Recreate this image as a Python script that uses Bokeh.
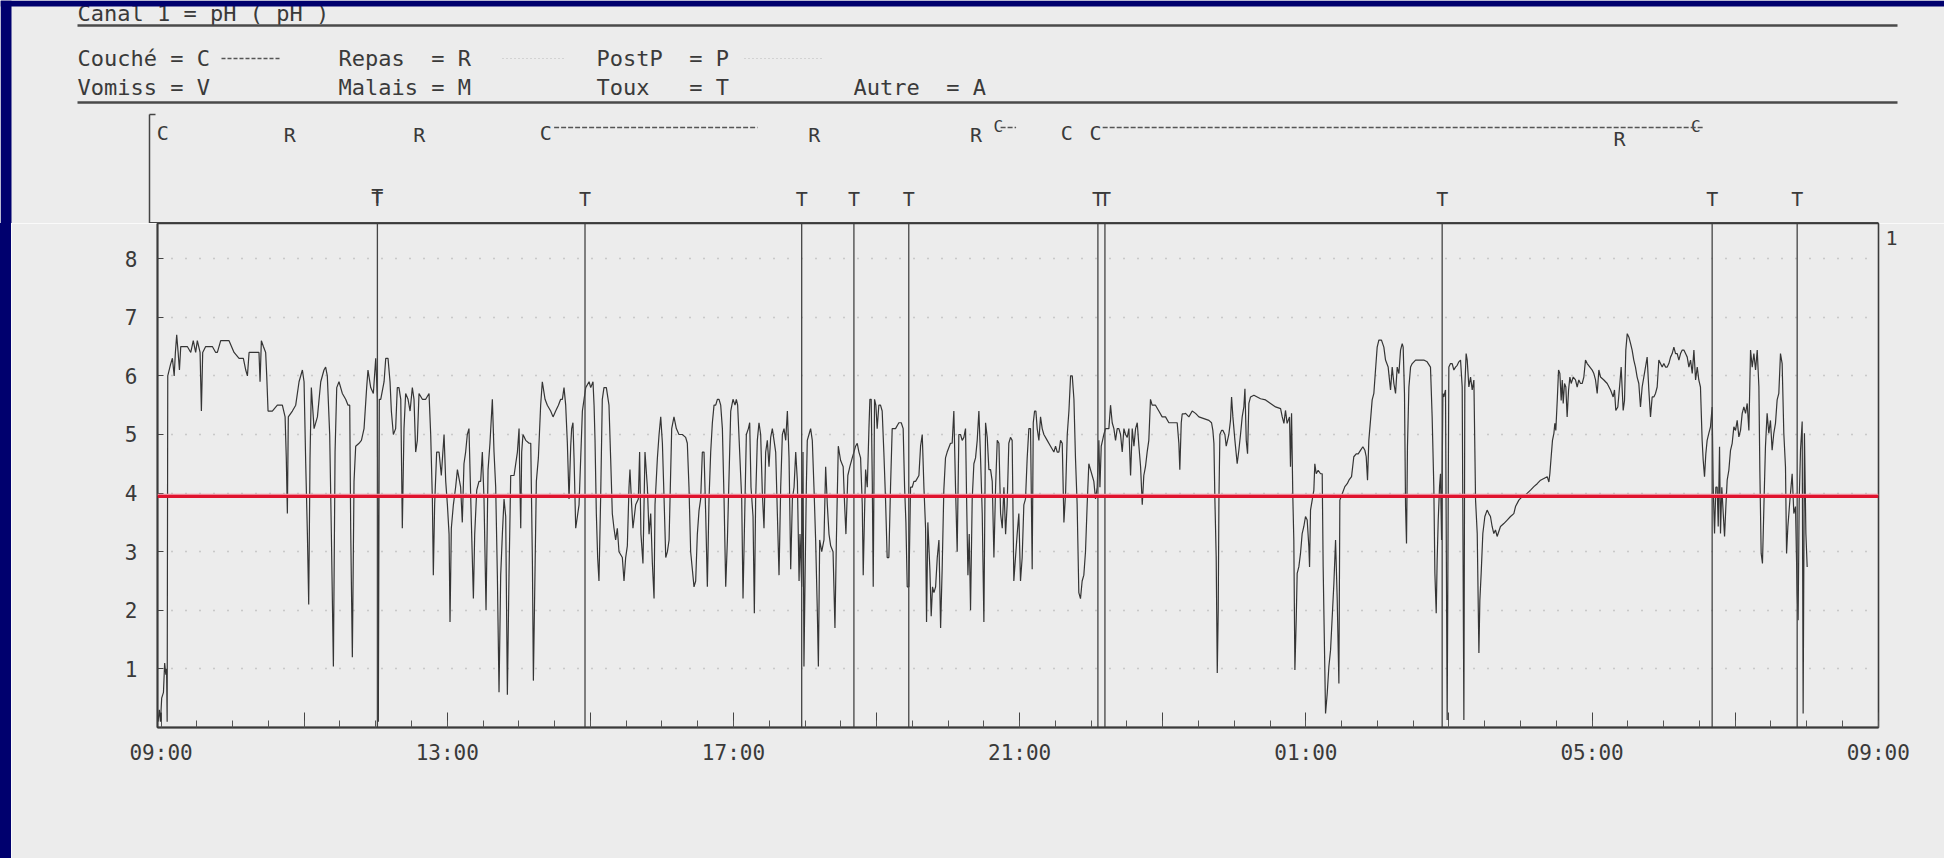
from bokeh.plotting import figure
from bokeh.models import Range1d, FixedTicker, Span, LinearAxis, Div
from bokeh.layouts import column, row
from bokeh.embed import file_html
from bokeh.resources import INLINE
from bokeh.core.properties import value

# ------------------------------------------------------------------
# DATA  (time = minutes after 09:00, value = pH)
# ------------------------------------------------------------------
trace_0900_1340 = [
    (-2.5, 0.1), (-1.5, 0.3), (-0.5, 0.1), (0.5, 0.5), (2, 0.6), (3, 1.1), (4, 0.9), (4.6, 1.0), (5.1, 0.1),
    (5.6, 6.0), (8, 6.2), (9.5, 6.3), (11, 6.0), (12, 6.4), (13.1, 6.7), (14.3, 6.4), (15.4, 6.1), (16.5, 6.5),
    (19.3, 6.5), (22, 6.5), (24.9, 6.4), (27, 6.6), (29, 6.4), (30.4, 6.6), (32.7, 6.4), (33.8, 5.4), (34.9, 6.4),
    (37.4, 6.5), (40.2, 6.5), (43, 6.5), (45.8, 6.4), (47.2, 6.4), (50, 6.6), (52.8, 6.6), (57, 6.6), (61.2, 6.4),
    (65.4, 6.3), (69, 6.3), (71, 6.1), (72.4, 6.0), (73.8, 6.4), (76.5, 6.4), (79.3, 6.4), (82.1, 6.4), (83, 5.9),
    (84.1, 6.6), (85.8, 6.5), (87.7, 6.4), (88.6, 6.0), (89.7, 5.4), (93.3, 5.4), (97.5, 5.5), (101.7, 5.5),
    (104, 5.3), (105, 4.6), (105.9, 3.65), (106.7, 5.3), (110.1, 5.4), (112.9, 5.5), (115.7, 5.9), (118.5, 6.1),
    (119.9, 5.9), (121.3, 4.5), (122.7, 3.3), (123.8, 2.1), (124.9, 4.6), (126, 5.8), (128.3, 5.1), (131.1, 5.3),
    (133.9, 5.9), (136.6, 6.1), (138, 6.15), (139.4, 6.0), (141.4, 5.0), (142.8, 3.3), (144.5, 1.04), (145.9, 4.7),
    (147.3, 5.8), (149.2, 5.9), (152, 5.7), (154.8, 5.6), (156.8, 5.5), (158.2, 5.5), (159, 3.4), (160.4, 1.2),
    (161.8, 4.2), (163.2, 4.8), (166, 4.85), (168, 4.9), (170.2, 5.1), (172.4, 5.8), (173.5, 6.1), (175.8, 5.8),
    (178, 5.7), (180, 6.3), (181.4, 5.6), (182.2, 0.1), (183, 5.6), (184.2, 5.6), (187, 5.9), (188.4, 6.3),
    (190.3, 6.3), (192, 5.9), (193.1, 5.4), (194.8, 5.0), (196.7, 5.1), (198.1, 5.8), (199.5, 5.8), (201, 5.6),
    (202.3, 3.4), (203.7, 5.1), (205.1, 5.7), (207.1, 5.6), (208.8, 5.4), (210.7, 5.8), (212.1, 5.6), (213.5, 4.7),
    (214.9, 4.9), (216.3, 5.7), (219.1, 5.6), (221.9, 5.6), (224.7, 5.7), (226.1, 5.0), (227.5, 3.9), (228.3, 2.6),
    (229.4, 3.8), (231.1, 4.7), (233.1, 4.7), (235, 4.3), (237.3, 5.0), (238.7, 4.2), (240.1, 3.8), (241.5, 3.3),
    (242.3, 1.8), (243.4, 3.4), (245.1, 3.8), (247, 4.1), (248.5, 4.4), (251.2, 4.1), (252.6, 3.5), (254, 4.5),
    (255.4, 4.7), (256.8, 5.0), (258.2, 5.1), (260.2, 3.5), (261.9, 2.2), (263, 3.3), (264.7, 4.05), (266.6, 4.2),
    (268, 4.2), (269.4, 4.7), (270.8, 3.9), (272.5, 2.0), (274.2, 4.4), (275.8, 4.85), (277.8, 5.6), (279.2, 4.7),
    (280.6, 4.1),
]

trace_1340_1830 = [
    (282.0, 2.6), (283.4, 0.6), (284.8, 2.6), (286.2, 3.3), (287.6, 3.9), (289.0, 3.6), (290.4, 0.56), (291.8, 2.65),
    (293.2, 4.3), (296.0, 4.3), (298.8, 4.7), (300.2, 5.1), (300.7, 4.4), (301.6, 3.4), (302.4, 4.7), (303.5, 5.0),
    (305.8, 4.9), (308.6, 4.85), (310.0, 4.85), (311.4, 2.8), (312.2, 0.8), (313.6, 2.7), (314.7, 4.2), (316.4, 4.6),
    (318.3, 5.5), (319.7, 5.9), (322.0, 5.6), (323.9, 5.5), (326.7, 5.4), (328.7, 5.3), (330.9, 5.4), (333.2, 5.5),
    (335.1, 5.6), (336.5, 5.6), (337.9, 5.8), (339.3, 5.5), (340.7, 4.85), (342.1, 3.9), (343.5, 4.8), (344.3, 5.1),
    (345.4, 5.2), (346.3, 4.6), (347.7, 3.4), (349.1, 3.6), (350.5, 3.8), (351.9, 4.6), (353.3, 5.4), (354.7, 5.6),
    (356.1, 5.8), (358.9, 5.9), (360.3, 5.8), (362.2, 5.9), (363.1, 5.5), (363.9, 4.9), (365.0, 3.65), (366.1, 2.9),
    (367.2, 2.5), (368.6, 3.9), (370.0, 5.6), (371.4, 5.8), (373.4, 5.8), (375.6, 5.5), (377.0, 4.6), (378.4, 3.65),
    (379.8, 3.4), (381.2, 3.2), (382.6, 3.4), (384.0, 3.0), (386.8, 2.9), (388.2, 2.5), (389.6, 2.9), (391.0, 3.1),
    (392.4, 4.1), (393.2, 4.4), (394.6, 3.8), (395.7, 3.4), (398.0, 3.8), (400.2, 3.9), (401.3, 4.7), (402.4, 3.3),
    (404.1, 2.8), (405.8, 4.7), (407.8, 4.1), (409.2, 3.3), (410.6, 3.65), (412.0, 2.8), (413.4, 2.2), (414.2, 3.8),
    (416.2, 4.6), (417.6, 5.0), (419.0, 5.3), (420.4, 4.85), (421.8, 3.9), (423.2, 2.9), (424.6, 3.0), (426.0, 3.2),
    (428.2, 5.1), (430.1, 5.3), (432.1, 5.1), (434.3, 5.0), (437.1, 5.0), (439.9, 4.95), (441.3, 4.85), (442.7, 4.1),
    (444.1, 3.0), (445.5, 2.7), (446.9, 2.4), (448.3, 2.5), (449.7, 3.3), (451.1, 3.7), (452.5, 3.9), (453.9, 4.7),
    (455.3, 4.7), (456.7, 3.65), (458.1, 2.4), (459.5, 3.9), (460.9, 4.7), (462.3, 5.2), (463.7, 5.5), (465.1, 5.5),
    (466.5, 5.6), (467.9, 5.6), (469.3, 5.5), (470.7, 5.1), (472.1, 3.9), (473.5, 2.4), (474.9, 3.2), (476.3, 4.3),
    (477.7, 5.4), (479.6, 5.6), (481.3, 5.5), (482.4, 5.6), (483.5, 5.5), (485.2, 4.7), (486.9, 3.9), (488.0, 2.2),
    (489.1, 3.3), (490.8, 5.0), (492.5, 5.1), (493.6, 5.2), (494.7, 4.1), (496.4, 3.6), (497.5, 1.95), (498.6, 3.9),
    (500.0, 4.9), (501.4, 5.2), (502.8, 5.0), (504.2, 4.0), (505.6, 3.4), (507.0, 4.7), (508.4, 4.9), (509.8, 4.45),
    (511.2, 4.95), (512.6, 5.1), (514.0, 4.9), (515.4, 4.7), (516.8, 3.65), (518.2, 2.6), (519.6, 4.1), (521.0, 5.0),
    (522.4, 5.1), (523.8, 4.9), (525.2, 5.4), (526.6, 4.6), (528.0, 2.7), (529.4, 3.9), (530.8, 4.1), (532.2, 4.7),
    (533.6, 4.2), (535.0, 2.5), (535.8, 3.3), (537.2, 2.4), (537.7, 3.5), (538.3, 4.7), (539.1, 1.04), (540.0, 2.5),
    (541.1, 4.1), (541.9, 4.9), (543.3, 5.0), (544.7, 5.1), (546.1, 4.9), (547.5, 4.1), (548.9, 3.2), (550.3, 2.0),
    (551.2, 1.04), (552.3, 3.2), (554.0, 3.0), (555.9, 3.2), (557.3, 4.45), (558.7, 3.8), (560.1, 3.3), (561.5, 3.1),
    (563.5, 3.0), (565.1, 1.7), (566.3, 3.2), (567.9, 4.8),
]

trace_1830_2320 = [
    (569.8, 4.56), (572.0, 4.45), (573.2, 3.8), (574.3, 3.3), (575.9, 4.3), (577.6, 4.45), (579.6, 4.6), (581.0, 4.7),
    (582.4, 4.8), (583.8, 4.85), (585.2, 4.7), (586.6, 4.6), (588.0, 3.8), (588.8, 2.6), (589.9, 3.65), (590.8, 4.4),
    (592.2, 4.1), (593.6, 5.1), (594.4, 5.6), (595.5, 5.6), (596.4, 4.2), (597.2, 2.4), (598.3, 5.6), (599.4, 5.5),
    (600.5, 5.1), (601.9, 5.5), (603.3, 5.5), (604.7, 5.4), (606.1, 4.7), (607.5, 3.9), (608.9, 2.9), (610.3, 2.9),
    (611.7, 4.1), (613.1, 5.1), (615.9, 5.1), (618.7, 5.2), (620.7, 5.2), (622.3, 5.1), (623.5, 4.1), (624.6, 3.5),
    (625.7, 2.4), (627.1, 2.4), (628.5, 4.1), (629.9, 4.1), (631.3, 4.2), (632.7, 4.2), (635.5, 4.3), (636.9, 4.8),
    (638.3, 5.0), (639.7, 4.1), (641.1, 3.4), (641.9, 1.8), (643.0, 3.5), (644.7, 2.7), (645.8, 1.9), (646.9, 2.4),
    (648.1, 2.3), (649.5, 2.4), (650.9, 2.9), (652.3, 3.2), (653.7, 1.7), (655.0, 2.7), (656.4, 4.05), (657.8, 4.6),
    (659.2, 4.7), (662.0, 4.85), (663.4, 4.85), (664.8, 5.4), (666.2, 4.1), (667.6, 3.0), (669.0, 5.0), (670.4, 5.0),
    (671.8, 4.9), (673.2, 4.95), (674.6, 5.1), (675.5, 3.9), (676.6, 2.6), (677.7, 3.3), (678.8, 2.0), (680.2, 3.9),
    (681.6, 4.5), (683.0, 4.6), (684.4, 4.9), (685.8, 5.4), (687.2, 4.6), (688.6, 3.65), (690.0, 1.8), (691.4, 5.2),
    (692.8, 4.95), (694.2, 4.4), (695.6, 4.4), (697.0, 4.2), (698.4, 2.9), (699.8, 4.1), (701.2, 4.9), (702.6, 4.85),
    (704.0, 3.65), (705.4, 3.4), (706.8, 4.1), (708.2, 3.3), (709.5, 3.8), (710.9, 4.85), (712.3, 4.95), (713.7, 4.9),
    (715.1, 2.5), (716.5, 2.9), (717.9, 3.3), (719.3, 3.65), (720.7, 2.5), (722.1, 2.9), (723.5, 3.8), (724.9, 3.9),
    (726.3, 4.6), (727.7, 5.1), (729.1, 5.1), (730.5, 2.7), (731.4, 5.2), (732.5, 5.4), (733.6, 5.4), (734.7, 5.1),
    (736.1, 4.9), (737.5, 5.3), (738.9, 5.1), (740.3, 5.0), (743.1, 4.9), (745.9, 4.8), (748.7, 4.7), (750.1, 4.8),
    (751.5, 4.7), (752.9, 4.7), (754.3, 4.9), (755.7, 4.85), (757.1, 3.5), (758.5, 4.0), (759.9, 5.0), (761.3, 5.4),
    (762.7, 6.0), (764.1, 6.0), (765.5, 5.6), (766.8, 4.6), (768.2, 3.8), (769.6, 2.3), (771.0, 2.2), (772.4, 2.5),
    (773.8, 2.6), (775.2, 3.0), (776.6, 3.8), (778.0, 4.5), (779.4, 4.4), (780.8, 4.3), (782.2, 4.2), (783.6, 3.9),
    (785.0, 4.1), (786.4, 4.9), (787.3, 4.1), (788.4, 4.8), (789.5, 4.9), (790.6, 5.0), (792.0, 5.1), (793.4, 5.1),
    (794.8, 5.1), (796.2, 5.5), (797.6, 5.2), (799.0, 5.1), (800.4, 4.9), (801.8, 5.1), (803.2, 5.1), (804.6, 5.0),
    (806.0, 4.7), (807.4, 5.1), (808.8, 5.0), (810.2, 4.95), (811.6, 5.1), (813.0, 4.3), (814.4, 5.1), (815.8, 4.8),
    (817.2, 5.1), (818.6, 5.2), (820.0, 4.8), (821.4, 4.45), (822.8, 3.8), (824.1, 4.3), (825.5, 4.45), (826.9, 4.7),
    (828.3, 4.9), (829.7, 5.6), (831.1, 5.5), (833.9, 5.5), (836.7, 5.4), (839.5, 5.3), (842.3, 5.3), (845.1, 5.2),
    (847.9, 5.2), (849.3, 5.2), (852.1, 5.2), (853.5, 4.85), (854.3, 4.4), (855.5, 5.2), (856.3, 5.35), (857.7, 5.35),
]

trace_2320_0410 = [
    (859.1, 5.36), (861.9, 5.3), (864.7, 5.4), (867.5, 5.36), (870.3, 5.3), (874.5, 5.27), (878.7, 5.24), (880.9, 5.2),
    (882.0, 5.07), (882.9, 4.85), (883.7, 3.9), (884.8, 2.9), (885.7, 0.93), (886.5, 2.0), (887.1, 3.9), (887.9, 5.0),
    (889.3, 5.07), (890.4, 5.07), (892.1, 5.0), (893.2, 4.8), (894.3, 4.9), (895.4, 5.0), (896.8, 5.24), (897.7, 5.64),
    (898.8, 5.3), (900.5, 4.9), (902.4, 4.5), (903.8, 4.73), (905.2, 5.0), (906.6, 5.3), (908.0, 5.47), (908.9, 5.78),
    (910.0, 4.9), (911.1, 4.67), (912.2, 5.53), (913.6, 5.64), (916.4, 5.67), (919.2, 5.64), (922.0, 5.61),
    (926.2, 5.59), (930.4, 5.53), (934.6, 5.47), (938.8, 5.44), (940.2, 5.3), (941.6, 5.19), (942.9, 5.41),
    (944.3, 5.19), (946.3, 5.3), (947.1, 4.45), (948.0, 5.36), (949.1, 3.9), (949.9, 3.2), (950.8, 0.98),
    (951.9, 1.83), (952.7, 2.63), (954.1, 2.74), (955.5, 2.97), (956.9, 3.31), (958.3, 3.43), (959.7, 3.6),
    (961.1, 3.54), (962.5, 3.09), (963.1, 2.74), (963.9, 3.71), (965.3, 3.88), (966.7, 4.05), (967.5, 4.5),
    (968.7, 4.33), (970.3, 4.39), (972.3, 4.33), (973.7, 4.33), (974.5, 2.74), (975.4, 1.61), (976.5, 0.24),
    (977.9, 0.58), (979.3, 1.04), (980.7, 1.32), (982.1, 1.89), (983.5, 2.46), (984.9, 3.2), (986.3, 2.17),
    (987.7, 0.75), (988.5, 3.88), (990.5, 3.99), (992.7, 4.11), (994.7, 4.16), (996.1, 4.22), (998.3, 4.28),
    (1000.2, 4.62), (1002.2, 4.67), (1003.9, 4.67), (1005.8, 4.73), (1007.8, 4.79), (1009.5, 4.73), (1010.6, 4.62),
    (1011.7, 4.22), (1012.8, 4.9), (1014.2, 5.24), (1015.6, 5.59), (1017.0, 5.7), (1018.4, 6.1), (1019.8, 6.49),
    (1021.2, 6.61), (1023.4, 6.61), (1025.4, 6.49), (1026.8, 6.27), (1029.0, 6.15), (1031.0, 5.76), (1032.4, 6.15),
    (1033.8, 5.87), (1035.2, 5.7), (1036.6, 6.15), (1038.0, 6.04), (1039.4, 6.44), (1040.8, 6.55), (1041.6, 6.49),
    (1042.7, 5.7), (1043.6, 3.77), (1044.4, 3.14), (1045.2, 4.79), (1046.4, 5.81), (1047.8, 6.15), (1049.2, 6.21),
    (1052.0, 6.27), (1054.7, 6.27), (1058.9, 6.27), (1061.7, 6.24), (1064.5, 6.15), (1065.9, 5.3), (1067.3, 4.11),
    (1068.2, 2.63), (1069.3, 1.95), (1070.1, 2.86), (1071.0, 3.54), (1072.1, 4.11), (1072.9, 4.33), (1073.8, 3.2),
    (1074.9, 5.7), (1075.7, 5.64), (1077.1, 5.76), (1078.5, 0.13), (1079.9, 6.15), (1081.3, 6.21), (1082.7, 6.21),
    (1084.1, 6.1), (1085.5, 6.15), (1086.9, 6.18), (1088.3, 6.24), (1089.7, 6.27), (1091.1, 5.81), (1092.5, 0.13),
    (1093.3, 5.81), (1094.4, 6.38), (1095.3, 6.27), (1096.7, 5.81), (1098.1, 5.98), (1099.5, 5.76), (1100.9, 5.93),
    (1102.3, 3.88), (1103.7, 3.31), (1105.1, 1.27), (1105.9, 2.17), (1107.0, 2.63), (1108.4, 3.31), (1110.1, 3.6),
    (1112.0, 3.71), (1113.4, 3.65), (1114.8, 3.6), (1116.2, 3.43), (1117.6, 3.31), (1119.0, 3.37), (1120.4, 3.26),
    (1123.2, 3.43), (1126.0, 3.48), (1128.8, 3.54), (1131.6, 3.6), (1134.4, 3.65), (1135.8, 3.77), (1138.6, 3.88),
    (1141.4, 3.94), (1144.2, 3.97),
]

trace_0410_0800 = [
    (1148.4, 4.05), (1151.2, 4.11), (1154.0, 4.16), (1156.8, 4.22), (1159.6, 4.25), (1162.4, 4.28), (1163.8, 4.19),
    (1164.6, 4.33), (1165.7, 4.62), (1166.8, 4.9), (1168.0, 5.02), (1168.8, 5.19), (1169.6, 5.07), (1170.8, 5.58),
    (1171.9, 6.1), (1173.0, 6.04), (1174.1, 5.58), (1175.0, 5.93), (1175.8, 5.53), (1176.9, 5.87), (1178.0, 5.81),
    (1179.1, 5.3), (1180.3, 5.76), (1181.4, 5.98), (1182.5, 5.87), (1184.2, 5.98), (1186.1, 5.93), (1187.5, 5.81),
    (1188.9, 5.93), (1190.3, 5.87), (1191.7, 5.87), (1193.1, 5.98), (1194.5, 6.27), (1195.9, 6.21), (1198.2, 6.15),
    (1200.1, 6.1), (1201.5, 6.04), (1202.9, 5.93), (1204.3, 5.7), (1205.7, 6.1), (1207.1, 5.98), (1209.9, 5.93),
    (1212.7, 5.87), (1215.5, 5.76), (1217.7, 5.64), (1218.8, 5.76), (1219.9, 5.41), (1221.6, 5.47), (1223.3, 5.87),
    (1224.4, 6.15), (1226.1, 5.41), (1227.2, 5.58), (1228.3, 6.44), (1229.5, 6.72), (1230.9, 6.66), (1232.3, 6.55),
    (1233.6, 6.44), (1235.0, 6.27), (1236.4, 6.15), (1237.8, 5.98), (1239.2, 5.87), (1240.6, 5.47), (1242.0, 5.81),
    (1243.4, 5.98), (1244.8, 6.15), (1246.2, 6.32), (1247.6, 5.76), (1249.0, 5.3), (1250.4, 5.64), (1251.8, 5.64),
    (1253.2, 5.7), (1254.6, 5.81), (1256.0, 6.27), (1257.4, 6.21), (1258.8, 6.15), (1260.2, 6.21), (1261.6, 6.15),
    (1263.0, 6.15), (1264.4, 6.21), (1265.8, 6.32), (1267.2, 6.38), (1268.6, 6.49), (1270.0, 6.38), (1271.4, 6.38),
    (1272.8, 6.27), (1274.2, 6.38), (1275.6, 6.44), (1277.0, 6.44), (1278.4, 6.38), (1279.8, 6.32), (1281.2, 6.15),
    (1282.6, 6.27), (1284.0, 6.04), (1285.4, 6.44), (1286.8, 5.93), (1288.2, 6.15), (1289.5, 5.93), (1290.9, 5.81),
    (1292.3, 4.9), (1293.2, 4.56), (1294.3, 4.28), (1295.4, 4.67), (1296.5, 4.9), (1297.9, 5.02), (1299.3, 5.13),
    (1300.7, 5.47), (1301.6, 4.1), (1302.7, 3.31), (1303.8, 4.1), (1304.9, 4.1), (1305.8, 3.43), (1306.9, 4.79),
    (1307.7, 3.31), (1308.8, 4.1), (1310.0, 3.65), (1311.1, 3.26), (1312.2, 3.77), (1313.3, 4.22), (1314.7, 4.39),
    (1316.1, 4.73), (1317.5, 4.85), (1318.9, 5.13), (1320.3, 5.07), (1321.7, 5.24), (1323.1, 4.96), (1324.5, 5.07),
    (1325.9, 5.36), (1327.3, 5.47), (1328.7, 5.36), (1330.1, 5.53), (1331.5, 5.07), (1332.9, 6.44), (1334.3, 6.15),
    (1335.7, 6.38), (1337.1, 6.1), (1338.5, 6.44), (1339.9, 5.81), (1340.7, 4.39), (1341.8, 2.97), (1342.9, 2.8),
    (1344.1, 3.77), (1345.4, 4.79), (1346.8, 5.36), (1348.2, 5.02), (1349.6, 5.24), (1351.0, 4.73), (1352.4, 5.02),
    (1353.8, 5.19), (1355.2, 5.59), (1356.6, 5.7), (1358.0, 6.38), (1359.4, 6.21), (1360.8, 5.02), (1362.2, 4.45),
    (1363.1, 2.97), (1364.2, 3.43), (1365.9, 3.88), (1367.8, 4.33), (1369.2, 3.65), (1370.6, 3.77), (1372.0, 2.29),
    (1372.8, 1.83), (1373.7, 3.88), (1374.8, 4.73), (1376.2, 5.22), (1377.0, 0.24), (1378.1, 5.02), (1379.3, 3.31),
    (1380.4, 2.74),
]

# event markers (minutes after 09:00)
toux_times = [181.4, 355.5, 537.2, 581.0, 627.0, 785.6, 791.5, 1074.3, 1300.7, 1372.0]
toux_label_times = [181.4, 181.4, 355.5, 537.2, 581.0, 627.0, 785.6, 791.5, 1074.3, 1300.7, 1372.0]
couche_times = [1.5, 322.5, 759.4, 783.7]
couche_small_times = [698.0, 1283.0]
couche_start = [329.6, 704.0, 789.6]
couche_end = [500.2, 717.0, 1294.0]
repas_times = [108.0, 216.5, 547.7, 683.5]
repas_low_times = [1223.0]

x_tick_minutes = [0, 240, 480, 720, 960, 1200, 1440]
x_tick_labels = ["09:00", "13:00", "17:00", "21:00", "01:00", "05:00", "09:00"]
y_ticks = [1, 2, 3, 4, 5, 6, 7, 8]
seuil_ph = 3.94

NB = "\u00a0"
channel_title = "Canal 1 = pH ( pH )"
legend_row1 = ["Couché = C", "Repas" + NB * 2 + "= R", "PostP" + NB * 2 + "= P"]
legend_row2 = ["Vomiss = V", "Malais = M", "Toux" + NB * 3 + "= T", "Autre" + NB * 2 + "= A"]

# ------------------------------------------------------------------
# LAYOUT / STYLE (page pixels)
# ------------------------------------------------------------------
PAPER = "#ececec"
NAVY = "#00006e"
INK = "#3a3a3a"
MONO = "DejaVu Sans Mono"
PAGE_W = 1944
STRIP_W = 11
HDR_H = 223
MAIN_H = 858 - HDR_H
FRAME_L, FRAME_R = 157, 1878          # page x of plot frame
FRAME_BOTTOM = 727                    # page y of x axis
T0, T1 = -3.0, 1440.2
PH_TOP = 8.6
MPP = (T1 - T0) / (FRAME_R - FRAME_L)


def px(page_x):
    """page pixel x -> minutes (header layout helper)"""
    return T0 + (page_x - FRAME_L) * MPP


# ---------------- header figure ----------------
hdr = figure(width=PAGE_W, height=HDR_H, x_range=Range1d(px(0), px(PAGE_W)), y_range=Range1d(HDR_H, 0),
             x_axis_location=None, y_axis_location=None, toolbar_location=None, tools="",
             output_backend="svg", min_border=0, outline_line_color=None,
             background_fill_color=PAPER, border_fill_color=PAPER)
hdr.grid.visible = False

hdr.text(x=[px(77)], y=[13], text=[channel_title], text_font=value(MONO), text_font_size="22px",
         text_baseline="alphabetic", text_color=INK)
hdr.segment(x0=[px(77), px(77)], y0=[25, 102], x1=[px(1897), px(1897)], y1=[25, 102],
            line_color="#4a4a4a", line_width=2.5)
hdr.text(x=[px(77), px(338), px(596)], y=[58, 58, 58], text=legend_row1, text_font=value(MONO),
         text_font_size="22px", text_baseline="middle", text_color=INK)
hdr.text(x=[px(77), px(338), px(596), px(853)], y=[87, 87, 87, 87], text=legend_row2, text_font=value(MONO),
         text_font_size="22px", text_baseline="middle", text_color=INK)
hdr.segment(x0=[px(221)], y0=[58], x1=[px(279)], y1=[58], line_color="#555555", line_width=1.3,
            line_dash="4 2")
hdr.segment(x0=[px(502), px(744)], y0=[58, 58], x1=[px(564), px(824)], y1=[58, 58],
            line_color="#bbbbbb", line_width=1.2, line_dash="1 3")

# event box bracket and bottom
hdr.segment(x0=[px(149), px(149)], y0=[114, 114], x1=[px(149), px(155)], y1=[223, 114],
            line_color="#444444", line_width=1.5)
hdr.segment(x0=[px(149)], y0=[222.3], x1=[px(1878)], y1=[222.3], line_color="#444444", line_width=1.6)

# events
hdr.text(x=couche_times, y=[132] * len(couche_times), text=["C"] * len(couche_times), text_font=value(MONO),
         text_font_size="20px", text_align="center", text_baseline="middle", text_color=INK)
hdr.text(x=couche_small_times, y=[126] * len(couche_small_times), text=["C"] * len(couche_small_times),
         text_font=value(MONO), text_font_size="16px", text_align="left", text_baseline="middle",
         text_color=INK)
hdr.segment(x0=couche_start, y0=[127] * 3, x1=couche_end, y1=[127] * 3, line_color="#555555",
            line_width=1.3, line_dash="5 2")
hdr.text(x=repas_times, y=[134] * len(repas_times), text=["R"] * len(repas_times), text_font=value(MONO),
         text_font_size="20px", text_align="center", text_baseline="middle", text_color=INK)
hdr.text(x=repas_low_times, y=[138], text=["R"], text_font=value(MONO),
         text_font_size="20px", text_align="center", text_baseline="middle", text_color=INK)
hdr.text(x=toux_label_times, y=[198, 195] + [198] * (len(toux_label_times) - 2),
         text=["T"] * len(toux_label_times), text_font=value(MONO), text_font_size="20px",
         text_align="center", text_baseline="middle", text_color=INK)

# scan border (dark blue) on left and top
hdr.quad(left=[px(0), px(0)], right=[px(STRIP_W), px(PAGE_W)], top=[0, 0], bottom=[HDR_H, 6],
         fill_color=NAVY, line_color=None)

# ---------------- main figure ----------------
MAIN_W = PAGE_W - STRIP_W
main = figure(width=MAIN_W, height=MAIN_H, x_range=Range1d(T0, T1), y_range=Range1d(0, PH_TOP),
              toolbar_location=None, tools="", output_backend="svg",
              min_border_left=FRAME_L - STRIP_W, min_border_right=PAGE_W - FRAME_R, min_border_top=0,
              min_border_bottom=HDR_H + MAIN_H - FRAME_BOTTOM,
              background_fill_color=PAPER, border_fill_color=PAPER,
              outline_line_color="#3a3a3a", outline_line_width=1.6)

xt = FixedTicker(ticks=list(range(0, 1441, 120)), minor_ticks=list(range(0, 1441, 30)))
main.xaxis.ticker = xt
overrides = {t: "" for t in range(0, 1441, 120)}
overrides.update({t: lab for t, lab in zip(x_tick_minutes, x_tick_labels)})
main.xaxis.major_label_overrides = overrides
main.xaxis.major_tick_in = 15
main.xaxis.major_tick_out = 0
main.xaxis.minor_tick_in = 7
main.xaxis.minor_tick_out = 0
main.xaxis.major_label_standoff = 13

yt = FixedTicker(ticks=y_ticks)
main.yaxis.ticker = yt
main.yaxis.major_tick_in = 6
main.yaxis.major_tick_out = 0
main.yaxis.major_label_standoff = 20

for ax in (main.xaxis, main.yaxis):
    ax.axis_line_color = "#3a3a3a"
    ax.axis_line_width = 1.8
    ax.major_tick_line_color = "#444444"
    ax.minor_tick_line_color = "#555555"
    ax.major_label_text_font = MONO
    ax.major_label_text_font_size = "21px"
    ax.major_label_text_color = INK
main.yaxis.minor_tick_line_color = None

# channel number "1" at the top right of the frame
chan_axis = LinearAxis(ticker=FixedTicker(ticks=[8.35]), major_label_overrides={8.35: "1"},
                       axis_line_color=None, major_tick_line_color=None, minor_tick_line_color=None,
                       major_label_standoff=1, major_label_text_font=MONO,
                       major_label_text_font_size="20px", major_label_text_color=INK)
main.add_layout(chan_axis, "right")

main.xgrid.visible = False
main.ygrid.ticker = yt
main.ygrid.grid_line_color = "#8a8a8a"
main.ygrid.grid_line_dash = "1 13"
main.ygrid.grid_line_width = 1.5
main.ygrid.grid_line_alpha = 0.7

all_trace = trace_0900_1340 + trace_1340_1830 + trace_1830_2320 + trace_2320_0410 + trace_0410_0800
main.line(x=[t for t, _ in all_trace], y=[v for _, v in all_trace], line_color="#353535", line_width=1.2)

main.segment(x0=toux_times, y0=[0] * len(toux_times), x1=toux_times, y1=[PH_TOP] * len(toux_times),
             line_color="#444444", line_width=1.3)

main.add_layout(Span(location=seuil_ph + 0.03, dimension="width", line_color="#f08a9a", line_width=2))
main.add_layout(Span(location=seuil_ph, dimension="width", line_color="#e0132e", line_width=3))

for f in (hdr, main):
    if "frame_align" in f.properties():
        f.frame_align = False

strip = Div(text="", width=STRIP_W, height=MAIN_H, margin=(0, 0, 0, 0),
            styles={"background-color": NAVY})

layout = column(hdr, row(strip, main))
open("out.html", "w").write(file_html(layout, INLINE))
